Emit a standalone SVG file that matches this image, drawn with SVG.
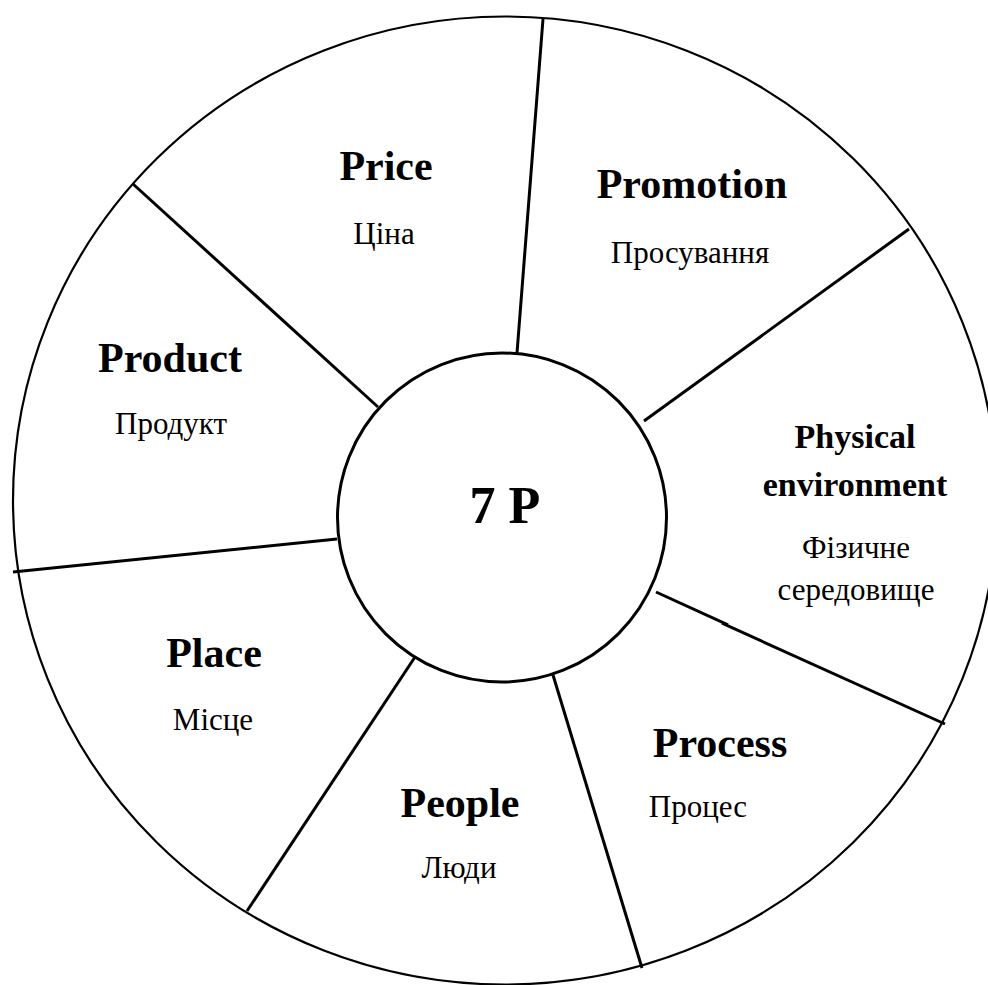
<svg xmlns="http://www.w3.org/2000/svg" width="988" height="985" viewBox="0 0 988 985">
<style>
.b{font-family:"Liberation Serif","Times New Roman",serif;font-weight:bold;font-size:42px;text-anchor:middle;fill:#000}
.s{font-family:"Liberation Serif","Times New Roman",serif;font-weight:bold;font-size:34px;text-anchor:middle;fill:#000}
.r{font-family:"Liberation Serif","Times New Roman",serif;font-size:31px;text-anchor:middle;fill:#000}
.sp{stroke:#000;stroke-width:3;fill:none}
</style>
<rect width="988" height="985" fill="#fff"/>
<ellipse id="outer" cx="505" cy="500.5" rx="492" ry="484" fill="#fff" stroke="#000" stroke-width="2.2"/>
<g id="connectors">
<line class="sp" x1="543" y1="19" x2="517" y2="353"/>
<line class="sp" x1="909" y1="229" x2="644" y2="421"/>
<line class="sp" x1="656" y1="592" x2="728" y2="624.9"/>
<line class="sp" x1="722" y1="623.2" x2="945" y2="724"/>
<line class="sp" x1="553" y1="675" x2="642" y2="968"/>
<line class="sp" x1="415" y1="657" x2="247" y2="911"/>
<line class="sp" x1="337" y1="539" x2="13" y2="572"/>
<line class="sp" x1="378" y1="407" x2="133" y2="184"/>
</g>
<g id="center">
<circle cx="502" cy="517.5" r="164.5" fill="#fff" stroke="#000" stroke-width="3"/>
<text class="b" x="505" y="523" style="font-size:52px">7 P</text>
</g>
<g id="price"><text class="b" x="386" y="180">Price</text><text class="r" x="384" y="244">Ціна</text></g>
<g id="promotion"><text class="b" x="692" y="198">Promotion</text><text class="r" x="690" y="263">Просування</text></g>
<g id="product"><text class="b" x="170" y="372">Product</text><text class="r" x="171" y="434">Продукт</text></g>
<g id="physical"><text class="s" x="855" y="448">Physical</text><text class="s" x="855" y="496">environment</text><text class="r" x="856" y="558">Фізичне</text><text class="r" x="856" y="600">середовище</text></g>
<g id="place"><text class="b" x="214" y="667">Place</text><text class="r" x="213" y="730">Місце</text></g>
<g id="process"><text class="b" x="720" y="757">Process</text><text class="r" x="698" y="817">Процес</text></g>
<g id="people"><text class="b" x="460" y="817">People</text><text class="r" x="459" y="878">Люди</text></g>
</svg>
